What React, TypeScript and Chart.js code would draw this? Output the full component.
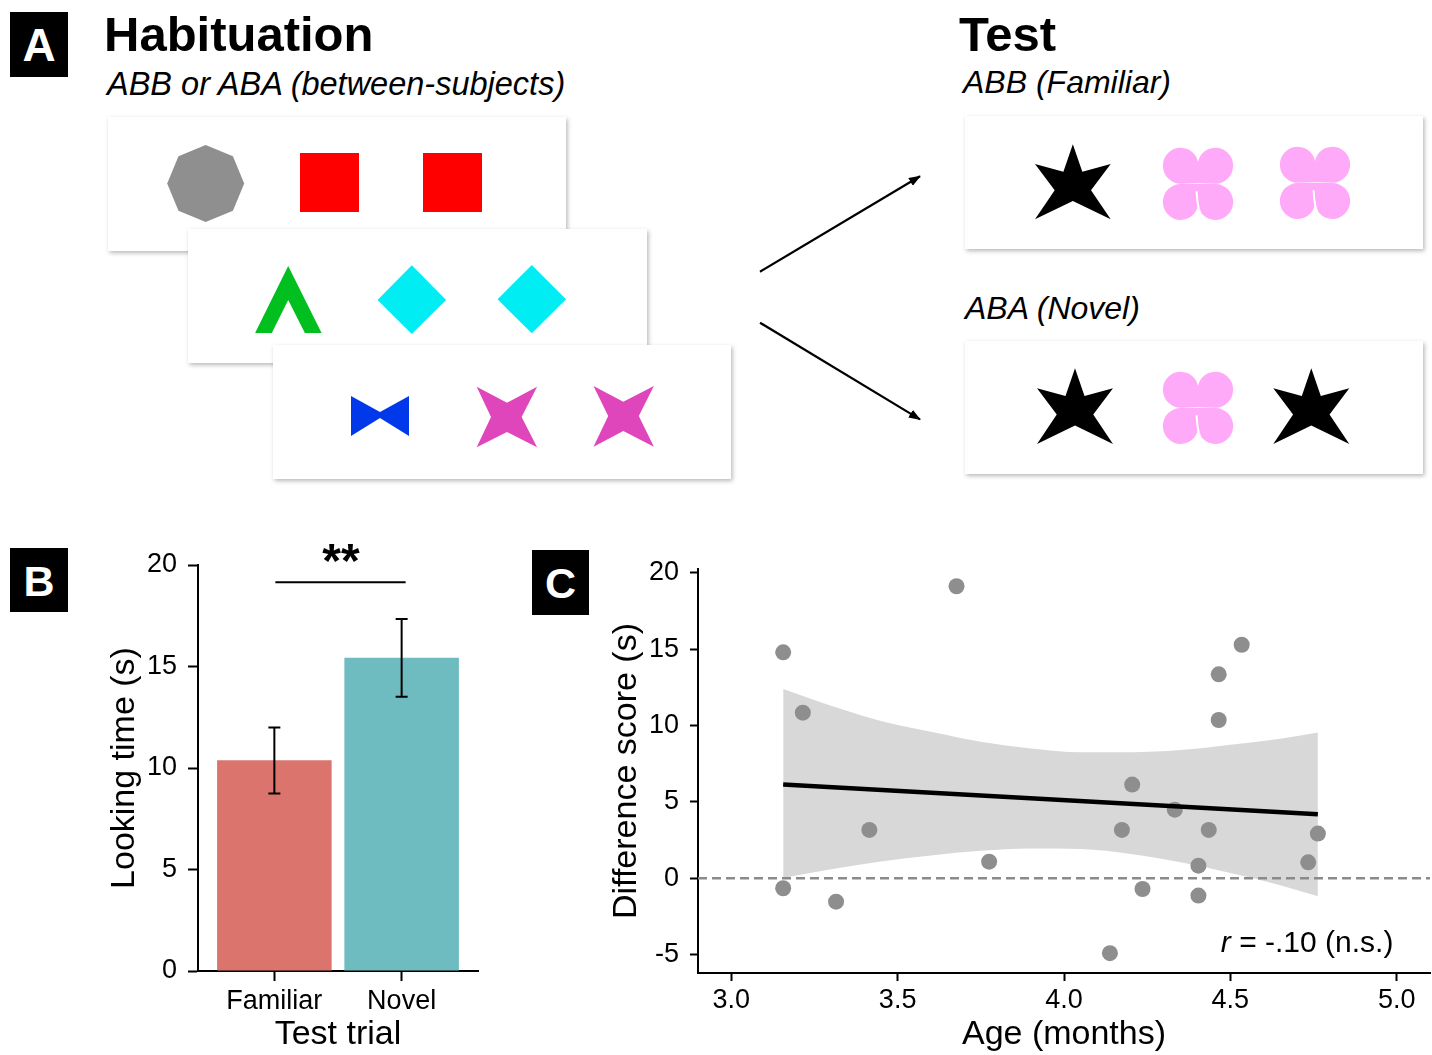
import React, { useEffect, useRef } from 'react';
import { Chart, registerables } from 'chart.js';

Chart.register(...registerables);

const FONT = '"Liberation Sans", Arial, Helvetica, sans-serif';
Chart.defaults.font.family = FONT;
Chart.defaults.color = '#000';

// ---------- Panel B data ----------
const trialCategories = ['Familiar', 'Novel'];
const trialPositions = [1, 2];
const lookingMeans = [10.38, 15.43];
const lookingErrLow = [8.75, 13.51];
const lookingErrHigh = [11.99, 17.34];
const lookingTicks = [0, 5, 10, 15, 20];
const trialAxisRange = [0.4, 2.6];
const lookingAxisRange = [0, 20];
const sigPair = [1, 2];
const sigLevel = [19.15];
const sigLabel = '**';
const barColors = ['#DA746C', '#6EBBC0'];

// ---------- Panel C data ----------
const ageMonths = [3.156, 3.215, 3.156, 3.315, 3.415, 3.677, 3.775, 4.138, 4.174, 4.205, 4.236, 4.333, 4.404, 4.404, 4.435, 4.465, 4.465, 4.534, 4.734, 4.763];
const diffScores = [14.8, 10.85, -0.65, -1.53, 3.17, 19.13, 1.09, -4.9, 3.17, 6.14, -0.7, 4.5, 0.83, -1.13, 3.17, 13.36, 10.37, 15.3, 1.05, 2.93];
const fitAges = [3.156, 4.763];
const fitScores = [6.15, 4.2];
const bandAges = [3.156, 3.3, 3.45, 3.6, 3.75, 3.9, 4.05, 4.2, 4.35, 4.5, 4.65, 4.763];
const bandUpper = [12.4, 11.3, 10.3, 9.6, 8.95, 8.5, 8.25, 8.25, 8.4, 8.75, 9.15, 9.55];
const bandLower = [0.03, 0.6, 1.1, 1.5, 1.8, 1.95, 1.92, 1.6, 1.05, 0.35, -0.45, -1.18];
const refLineAges = [2.9, 5.1];
const refLineScores = [0, 0];
const ageTicks = [3.0, 3.5, 4.0, 4.5, 5.0];
const diffTicks = [-5, 0, 5, 10, 15, 20];
const ageAxisRange = [2.9, 5.1];
const diffAxisRange = [-6.2, 20.26];
const corrPos = [4.99, -4.3];
const corrSymbol = 'r';
const corrText = ' = -.10 (n.s.)';

const tickGrid = (len: number) => ({
  display: true,
  drawOnChartArea: false,
  drawTicks: true,
  tickLength: len,
  tickWidth: 2,
  tickColor: '#000',
  offset: false,
});
const axisBorder = { display: true, color: '#000', width: 2 };

const errorBarPlugin = {
  id: 'errorBars',
  afterDatasetsDraw(chart: any) {
    const { ctx } = chart;
    const xs = chart.scales.x;
    const ys = chart.scales.y;
    ctx.save();
    ctx.strokeStyle = '#000';
    ctx.lineWidth = 2;
    trialPositions.forEach((p, i) => {
      const px = xs.getPixelForValue(p);
      const lo = ys.getPixelForValue(lookingErrLow[i]);
      const hi = ys.getPixelForValue(lookingErrHigh[i]);
      const cap = 6;
      ctx.beginPath();
      ctx.moveTo(px, lo);
      ctx.lineTo(px, hi);
      ctx.moveTo(px - cap, lo);
      ctx.lineTo(px + cap, lo);
      ctx.moveTo(px - cap, hi);
      ctx.lineTo(px + cap, hi);
      ctx.stroke();
    });
    const sx1 = xs.getPixelForValue(sigPair[0]);
    const sx2 = xs.getPixelForValue(sigPair[1]);
    const sy = ys.getPixelForValue(sigLevel[0]);
    ctx.beginPath();
    ctx.moveTo(sx1 + 1, sy);
    ctx.lineTo(sx2 + 4, sy);
    ctx.stroke();
    ctx.fillStyle = '#000';
    ctx.font = `bold 48px ${FONT}`;
    ctx.textAlign = 'center';
    ctx.textBaseline = 'alphabetic';
    ctx.fillText(sigLabel, (sx1 + sx2) / 2 + 3, sy - 5);
    ctx.restore();
  },
};

const corrLabelPlugin = {
  id: 'corrLabel',
  afterDatasetsDraw(chart: any) {
    const { ctx } = chart;
    const px = chart.scales.x.getPixelForValue(corrPos[0]);
    const py = chart.scales.y.getPixelForValue(corrPos[1]);
    ctx.save();
    ctx.fillStyle = '#000';
    ctx.textBaseline = 'middle';
    ctx.textAlign = 'left';
    ctx.font = `italic 30px ${FONT}`;
    const w1 = ctx.measureText(corrSymbol).width;
    ctx.font = `30px ${FONT}`;
    const w2 = ctx.measureText(corrText).width;
    const start = px - w1 - w2;
    ctx.font = `italic 30px ${FONT}`;
    ctx.fillText(corrSymbol, start, py);
    ctx.font = `30px ${FONT}`;
    ctx.fillText(corrText, start + w1, py);
    ctx.restore();
  },
};

function makeB(): any {
  return {
    type: 'bar',
    data: {
      datasets: [
        {
          data: trialPositions.map((x, i) => ({ x, y: lookingMeans[i] })),
          backgroundColor: barColors,
          borderWidth: 0,
          barPercentage: 0.9,
          categoryPercentage: 1,
        },
      ],
    },
    options: {
      animation: false,
      responsive: false,
      events: [],
      layout: { autoPadding: false, padding: { top: 45, right: 22, bottom: 0, left: 0 } },
      plugins: { legend: { display: false }, tooltip: { enabled: false } },
      scales: {
        x: {
          type: 'linear',
          min: trialAxisRange[0],
          max: trialAxisRange[1],
          offset: false,
          afterBuildTicks: (s: any) => {
            s.ticks = trialPositions.map((v) => ({ value: v }));
          },
          afterFit: (s: any) => {
            s.height = 84;
            s.paddingLeft = 0;
            s.paddingRight = 0;
          },
          ticks: {
            callback: (_v: any, i: number) => trialCategories[i],
            font: { family: FONT, size: 27 },
            color: '#000',
            padding: 4,
            maxRotation: 0,
            autoSkip: false,
          },
          grid: tickGrid(10),
          border: axisBorder,
          title: {
            display: true,
            text: 'Test trial',
            font: { family: FONT, size: 34 },
            color: '#000',
            padding: { top: 0, bottom: 0 },
          },
        },
        y: {
          type: 'linear',
          min: lookingAxisRange[0],
          max: lookingAxisRange[1],
          afterBuildTicks: (s: any) => {
            s.ticks = lookingTicks.map((v) => ({ value: v }));
          },
          afterFit: (s: any) => {
            s.width = 98;
            s.paddingTop = 0;
            s.paddingBottom = 0;
          },
          ticks: { font: { family: FONT, size: 27 }, color: '#000', padding: 11 },
          grid: tickGrid(10),
          border: axisBorder,
          title: {
            display: true,
            text: 'Looking time (s)',
            font: { family: FONT, size: 34 },
            color: '#000',
            padding: { top: 4, bottom: 0 },
          },
        },
      },
    },
    plugins: [errorBarPlugin],
  };
}

function makeC(): any {
  return {
    type: 'scatter',
    data: {
      datasets: [
        {
          type: 'line',
          data: bandAges.map((x, i) => ({ x, y: bandUpper[i] })),
          borderColor: 'transparent',
          pointRadius: 0,
          fill: false,
          cubicInterpolationMode: 'monotone',
          order: 5,
        },
        {
          type: 'line',
          data: bandAges.map((x, i) => ({ x, y: bandLower[i] })),
          borderColor: 'transparent',
          backgroundColor: '#d8d8d8',
          pointRadius: 0,
          fill: '-1',
          cubicInterpolationMode: 'monotone',
          order: 4,
        },
        {
          type: 'line',
          data: refLineAges.map((x, i) => ({ x, y: refLineScores[i] })),
          borderColor: '#8a8a8a',
          borderWidth: 2.5,
          borderDash: [9, 5],
          pointRadius: 0,
          fill: false,
          order: 3,
        },
        {
          type: 'scatter',
          data: ageMonths.map((x, i) => ({ x, y: diffScores[i] })),
          pointRadius: 8,
          pointHoverRadius: 8,
          pointBackgroundColor: '#8e8e8e',
          pointBorderWidth: 0,
          borderColor: 'transparent',
          order: 2,
        },
        {
          type: 'line',
          data: fitAges.map((x, i) => ({ x, y: fitScores[i] })),
          borderColor: '#000',
          borderWidth: 4.5,
          pointRadius: 0,
          fill: false,
          order: 1,
        },
      ],
    },
    options: {
      animation: false,
      responsive: false,
      events: [],
      layout: { autoPadding: false, padding: { top: 29, right: 2, bottom: 0, left: 0 } },
      plugins: { legend: { display: false }, tooltip: { enabled: false } },
      scales: {
        x: {
          type: 'linear',
          min: ageAxisRange[0],
          max: ageAxisRange[1],
          afterBuildTicks: (s: any) => {
            s.ticks = ageTicks.map((v) => ({ value: v }));
          },
          afterFit: (s: any) => {
            s.height = 82;
            s.paddingLeft = 0;
            s.paddingRight = 0;
          },
          ticks: {
            callback: (v: any) => Number(v).toFixed(1),
            font: { family: FONT, size: 27 },
            color: '#000',
            padding: 3,
            maxRotation: 0,
            autoSkip: false,
          },
          grid: tickGrid(8),
          border: axisBorder,
          title: {
            display: true,
            text: 'Age (months)',
            font: { family: FONT, size: 34 },
            color: '#000',
            padding: { top: 0, bottom: 0 },
          },
        },
        y: {
          type: 'linear',
          min: diffAxisRange[0],
          max: diffAxisRange[1],
          afterBuildTicks: (s: any) => {
            s.ticks = diffTicks.map((v) => ({ value: v }));
          },
          afterFit: (s: any) => {
            s.width = 98;
            s.paddingTop = 0;
            s.paddingBottom = 0;
          },
          ticks: { font: { family: FONT, size: 27 }, color: '#000', padding: 11 },
          grid: tickGrid(8),
          border: axisBorder,
          title: {
            display: true,
            text: 'Difference score (s)',
            font: { family: FONT, size: 34 },
            color: '#000',
            padding: { top: 6, bottom: 0 },
          },
        },
      },
    },
    plugins: [corrLabelPlugin],
  };
}

function ChartCanvas(props: { make: () => any; left: number; top: number; width: number; height: number }) {
  const ref = useRef<HTMLCanvasElement>(null);
  useEffect(() => {
    if (!ref.current) return;
    const chart = new Chart(ref.current, props.make());
    return () => chart.destroy();
  }, []);
  return (
    <canvas
      ref={ref}
      width={props.width}
      height={props.height}
      style={{
        position: 'absolute',
        left: props.left,
        top: props.top,
        width: props.width,
        height: props.height,
      }}
    />
  );
}

// ---------- Panel A diagram ----------
const starUnit = [
  [0.5, 0], [0.625, 0.367], [1, 0.263], [0.74, 0.611], [1, 1],
  [0.5, 0.755], [0, 1], [0.26, 0.611], [0, 0.263], [0.375, 0.367],
];

function Star({ x, y, w, h }: { x: number; y: number; w: number; h: number }) {
  const pts = starUnit.map(([u, v]) => `${x + u * w},${y + v * h}`).join(' ');
  return <polygon points={pts} fill="#000" />;
}

function teardrop(cx: number, cy: number, r: number, px: number, py: number) {
  const d = Math.hypot(px - cx, py - cy);
  const th = Math.atan2(py - cy, px - cx);
  const al = Math.acos(r / d);
  const t1 = th + al;
  const t2 = th - al;
  const x1 = cx + r * Math.cos(t1);
  const y1 = cy + r * Math.sin(t1);
  const x2 = cx + r * Math.cos(t2);
  const y2 = cy + r * Math.sin(t2);
  return `M${px},${py} L${x1},${y1} A${r},${r} 0 1 1 ${x2},${y2} Z`;
}

const cloverPetals = [
  teardrop(0.255, 0.245, 0.25, 0.5, 0.49),
  teardrop(0.745, 0.245, 0.25, 0.5, 0.49),
  teardrop(0.255, 0.75, 0.25, 0.5, 0.5),
  teardrop(0.745, 0.75, 0.25, 0.5, 0.5),
];

function Clover({ x, y, w, h }: { x: number; y: number; w: number; h: number }) {
  const fill = '#FFAAF8';
  return (
    <g transform={`translate(${x},${y}) scale(${w},${h})`}>
      {cloverPetals.map((d, i) => (
        <path key={i} d={d} fill={fill} />
      ))}
      <path d="M0.48,0.6 Q0.49,0.88 0.58,0.99" stroke="#fff" strokeWidth={0.028} fill="none" />
    </g>
  );
}

function Card({ x, y, w, h }: { x: number; y: number; w: number; h: number }) {
  return <rect x={x} y={y} width={w} height={h} fill="#fff" filter="url(#cardShadow)" />;
}

function LabelBox({ x, y, w, h, letter, size, base }: { x: number; y: number; w: number; h: number; letter: string; size: number; base: number }) {
  return (
    <g>
      <rect x={x} y={y} width={w} height={h} fill="#000" />
      <text x={x + w / 2} y={base} fill="#fff" fontWeight="bold" fontSize={size} textAnchor="middle" fontFamily={FONT}>
        {letter}
      </text>
    </g>
  );
}

function PanelA() {
  const oct = Array.from({ length: 8 }, (_, k) => {
    const a = (k * Math.PI) / 4;
    return `${205.7 + 38.5 * Math.sin(a)},${183.5 - 38.5 * Math.cos(a)}`;
  }).join(' ');
  return (
    <svg width={1432} height={1055} style={{ position: 'absolute', left: 0, top: 0 }}>
      <defs>
        <filter id="cardShadow" x="-5%" y="-10%" width="112%" height="130%">
          <feDropShadow dx="1.5" dy="2" stdDeviation="2" floodColor="#000" floodOpacity="0.28" />
        </filter>
        <marker id="arrowHead" markerWidth="12" markerHeight="9" refX="11" refY="4.5" orient="auto" markerUnits="userSpaceOnUse">
          <path d="M0,0 L12,4.5 L0,9 Z" fill="#000" />
        </marker>
      </defs>

      <LabelBox x={10} y={12} w={58} h={65} letter="A" size={46} base={61} />
      <LabelBox x={10} y={548} w={58} h={64} letter="B" size={43} base={596} />
      <LabelBox x={532} y={550} w={57} h={65} letter="C" size={43} base={598} />

      <text x={104} y={51} fontFamily={FONT} fontWeight="bold" fontSize={49} fill="#000">Habituation</text>
      <text x={107} y={95} fontFamily={FONT} fontStyle="italic" fontSize={32.5} fill="#000">ABB or ABA (between-subjects)</text>
      <text x={959} y={51} fontFamily={FONT} fontWeight="bold" fontSize={49} fill="#000">Test</text>
      <text x={963} y={93} fontFamily={FONT} fontStyle="italic" fontSize={32} fill="#000">ABB (Familiar)</text>
      <text x={965} y={319} fontFamily={FONT} fontStyle="italic" fontSize={32} fill="#000">ABA (Novel)</text>

      {/* Habituation cards */}
      <Card x={108} y={117} w={458} h={134} />
      <polygon points={oct} fill="#8f8f8f" />
      <rect x={300} y={153} width={59} height={59} fill="#FF0000" />
      <rect x={423} y={153} width={59} height={59} fill="#FF0000" />

      <Card x={188} y={229} w={459} h={134} />
      <polygon points="288.2,266 321.6,333 304.9,333 288.2,300 271.8,333 255.1,333" fill="#00BF1F" />
      <polygon points="377.6,300 411.8,265.3 446.1,300 411.8,334" fill="#00EEF3" />
      <polygon points="497.6,299.3 531.8,265 566.1,299.3 531.8,333.3" fill="#00EEF3" />

      <Card x={273} y={345} w={458} h={134} />
      <polygon points="351,396 380,412 409,396 409,436 380,418 351,436" fill="#0038EA" />
      <polygon points="476.7,386.7 507,402.7 537.1,386.7 521.6,417 537.1,447.3 507,432 476.7,447.3 491,417" fill="#E046BB" />
      <polygon points="593.5,386 623.3,401.7 653.9,386 638.8,416 653.9,446.7 623.3,431 593.5,446.7 608.2,416" fill="#E046BB" />

      {/* Arrows */}
      <line x1={760} y1={271.7} x2={920} y2={176.3} stroke="#000" strokeWidth={2.2} markerEnd="url(#arrowHead)" />
      <line x1={760} y1={322.7} x2={920} y2={419.4} stroke="#000" strokeWidth={2.2} markerEnd="url(#arrowHead)" />

      {/* Test cards */}
      <Card x={965} y={116} w={458} h={133} />
      <Star x={1035} y={144.3} w={75.7} h={75} />
      <Clover x={1162.5} y={148} w={71} h={72} />
      <Clover x={1279.5} y={147} w={71} h={72} />

      <Card x={965} y={341} w={458} h={133} />
      <Star x={1037} y={368.3} w={76} h={75.7} />
      <Clover x={1162.5} y={372} w={71} h={72} />
      <Star x={1273.3} y={368.3} w={76} h={75.7} />
    </svg>
  );
}

export default function App() {
  return (
    <div
      style={{
        position: 'absolute',
        left: 0,
        top: 0,
        width: 1432,
        height: 1055,
        background: '#fff',
        overflow: 'hidden',
        fontFamily: FONT,
      }}
    >
      <PanelA />
      <ChartCanvas make={makeB} left={100} top={520} width={400} height={535} />
      <ChartCanvas make={makeC} left={600} top={540} width={832} height={515} />
    </div>
  );
}
